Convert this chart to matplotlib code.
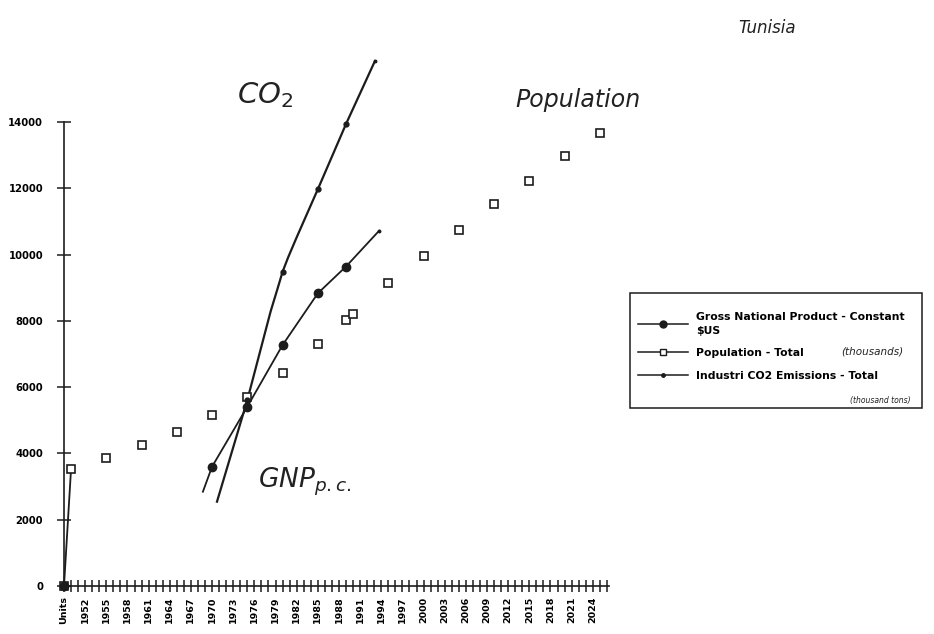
import numpy as np
import matplotlib
matplotlib.use("Agg")
import matplotlib.pyplot as plt
from matplotlib.lines import Line2D
from matplotlib.patches import Rectangle

# categories: "Units" and the years 1950..2025 (one slot per year)
first_year = 1950
last_year = 2025
label_years = list(range(1952, 2025, 3))  # 1952, 1955, ... 2024

# Population - Total (thousands), open squares
pop_years = [1950, 1955, 1960, 1965, 1970, 1975, 1980, 1985, 1989, 1990,
             1995, 2000, 2005, 2010, 2015, 2020, 2025]
pop_vals = [3530, 3870, 4250, 4650, 5170, 5700, 6420, 7290, 8030, 8200,
            9130, 9970, 10740, 11520, 12230, 12960, 13680]
pop_units = 0

# Gross National Product - Constant $US, filled circles
gnp_years = [1970, 1975, 1980, 1985, 1989]
gnp_vals = [3600, 5410, 7270, 8830, 9640]
gnp_units = 0

# Industrial CO2 emissions - total (thousand tons), small dots
co2_years = [1975, 1980, 1985, 1989]
co2_vals = [5610, 9480, 11970, 13940]

# hand drawn curves
gnp_curve_x = [1968.7, 1970, 1975, 1980, 1985, 1989, 1993.7]
gnp_curve_y = [2845, 3600, 5410, 7270, 8830, 9640, 10720]
co2_curve_x = [1970.7, 1975.0, 1978.3, 1979.3, 1980.0, 1980.8, 1982.0, 1985.0, 1989.0, 1993.1]
co2_curve_y = [2545, 5610, 8280, 8980, 9480, 9920, 10520, 11970, 13940, 15840]


def pos(y):
    # position of a year on the category axis ("Units" is slot 0)
    return np.asarray(y, dtype=float) - (first_year - 1)


n_slots = last_year - first_year + 2
ink = '#1c1c1c'

fig = plt.figure(figsize=(9.34, 6.34), dpi=100)
ax = fig.add_axes([64 / 934, 48 / 634, 545 / 934, 464 / 634])

# population as a full category row, gaps stay unconnected (like the sheet)
pop_row = np.full(n_slots, np.nan)
pop_row[0] = pop_units
pop_row[pos(pop_years).astype(int)] = pop_vals
ax.plot(np.arange(n_slots), pop_row, color=ink, lw=1.3, marker='s', ms=5.5,
        mfc='white', mec=ink, mew=1.2, zorder=3, clip_on=False)

# hand drawn trend curves
ax.plot(pos(gnp_curve_x), gnp_curve_y, color=ink, lw=1.3, zorder=2, clip_on=False)
ax.plot(pos(co2_curve_x), co2_curve_y, color=ink, lw=1.6, zorder=2, clip_on=False)
ax.plot(pos([gnp_curve_x[-1], co2_curve_x[-1]]), [gnp_curve_y[-1], co2_curve_y[-1]],
        ls='none', marker='o', ms=1.8, color=ink, clip_on=False)

# data markers
ax.plot([0] + list(pos(gnp_years)), [gnp_units] + gnp_vals, ls='none', marker='o',
        ms=6, color=ink, zorder=4, clip_on=False)
ax.plot(pos(co2_years), co2_vals, ls='none', marker='o', ms=3.5, color=ink,
        zorder=4, clip_on=False)

ax.set_xlim(0, 77.3)
ax.set_ylim(0, 14000)
for s in ['top', 'right']:
    ax.spines[s].set_visible(False)
for s in ['left', 'bottom']:
    ax.spines[s].set_color(ink)
    ax.spines[s].set_linewidth(1.2)

ax.set_yticks(range(0, 14001, 2000))
ax.tick_params(axis='y', direction='inout', length=10, width=1.1, color=ink,
               labelsize=7.2, pad=10)
for t in ax.get_yticklabels():
    t.set_fontweight('bold')

ax.set_xticks(np.arange(0, 78), minor=True)
ax.set_xticks([0] + list(pos(label_years)))
ax.set_xticklabels(['Units'] + [str(y) for y in label_years], rotation=90,
                   fontsize=6.8, fontweight='bold')
ax.tick_params(axis='x', which='both', direction='inout', length=9, width=1.1,
               color=ink, pad=3)

# legend (frame drawn as its own box)
fig.patches.append(Rectangle((630 / 934, 1 - 408 / 634), 292 / 934, 115 / 634,
                             transform=fig.transFigure, fill=False,
                             edgecolor=ink, lw=1.1))
handles = [
    Line2D([], [], color=ink, lw=1.1, marker='o', ms=5),
    Line2D([], [], color=ink, lw=1.1, marker='s', ms=4.5, mfc='white', mec=ink),
    Line2D([], [], color=ink, lw=1.1, marker='o', ms=2.5),
]
labels = ['Gross National Product - Constant\n\\$US',
          'Population - Total',
          'Industri CO2 Emissions - Total']
leg = fig.legend(handles, labels, loc='upper left',
                 bbox_to_anchor=(638 / 934, 1 - 312 / 634),
                 frameon=False, handlelength=4.6, handletextpad=0.8,
                 labelspacing=1.15, borderpad=0, borderaxespad=0,
                 prop={'size': 7.8, 'weight': 'bold'})
leg.get_texts()[0].set_linespacing(1.45)

# handwritten notes
hand = dict(color='#222222', fontstyle='italic', family='DejaVu Sans', zorder=10)
fig.text(265 / 934, 1 - 95 / 634, r'$CO_2$', fontsize=21, ha='center', va='center', color='#222222')
fig.text(578 / 934, 1 - 100 / 634, 'Population', fontsize=17, ha='center', va='center', **hand)
fig.text(305 / 934, 1 - 482 / 634, r'$GNP_{p.c.}$', fontsize=19, ha='center', va='center', color='#222222')
fig.text(767 / 934, 1 - 28 / 634, 'Tunisia', fontsize=12, ha='center', va='center', **hand)
fig.text(872 / 934, 1 - 352 / 634, '(thousands)', fontsize=7.5, ha='center', va='center', **hand)
fig.text(880 / 934, 1 - 401 / 634, '(thousand tons)', fontsize=5.5, ha='center', va='center', **hand)

fig.savefig('out.png', dpi=100, facecolor='white')
